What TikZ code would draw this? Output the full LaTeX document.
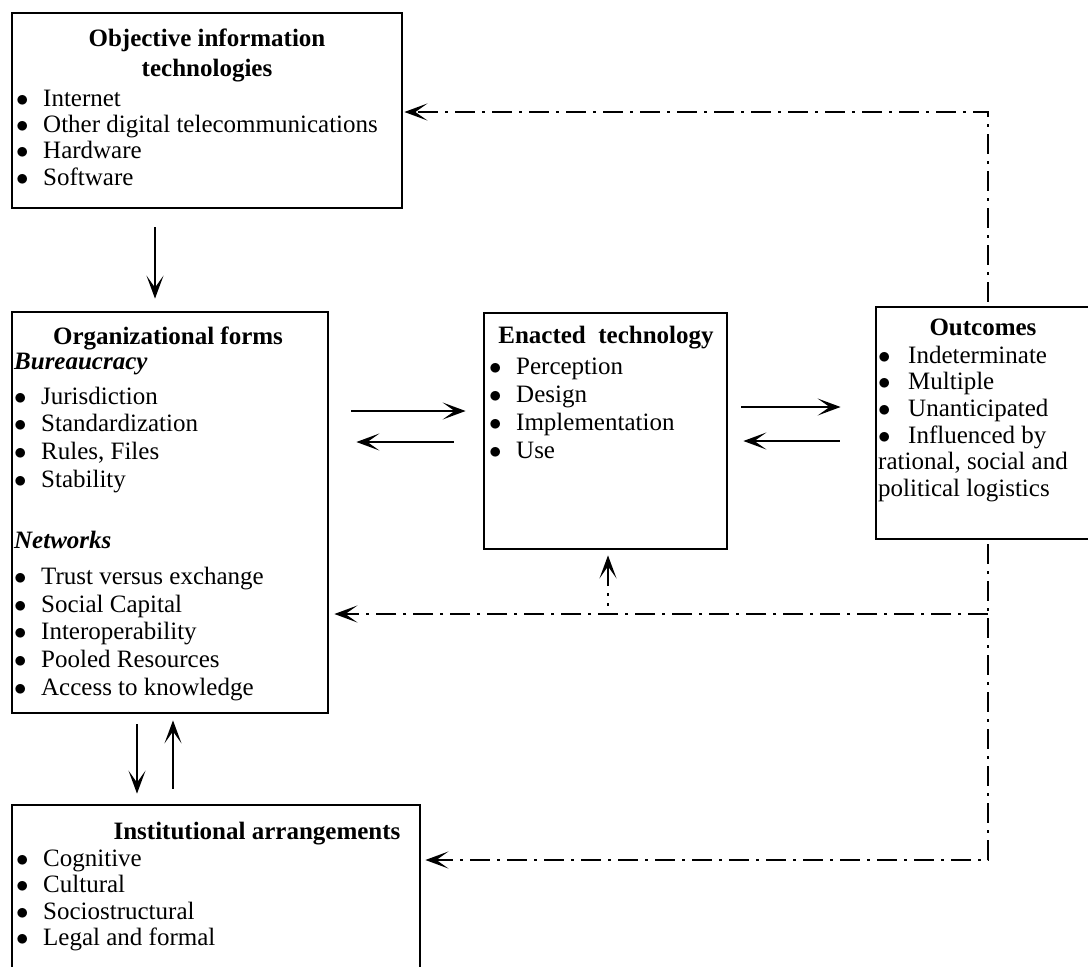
\documentclass[tikz,border=0pt]{standalone}
\usepackage{fontspec}
\setmainfont{Liberation Serif}
\usetikzlibrary{arrows.meta,calc}
\newcommand\fl{\rule{0pt}{20pt}}
\newcommand\bul[1][27pt]{\makebox[#1][l]{$\bullet$}}
\begin{document}
\begin{tikzpicture}[x=1pt,y=-1pt,
  box/.style={draw, line width=2.8pt, inner sep=0pt},
  txt/.style={anchor=north west, inner sep=0pt, align=left, font=\fontsize{25}{26.3}\selectfont},
  ttl/.style={anchor=north, inner sep=0pt, align=center, font=\fontsize{25}{30}\selectfont\bfseries},
  tip/.style={-{Stealth[length=23pt,width=17pt,inset=12pt]}},
  arr/.style={line width=1.6pt, tip},
  fb/.style={line width=2pt, dash pattern=on 20pt off 7pt on 3pt off 7pt, tip},
  dots/.style={line width=2pt, dash pattern=on 0pt off 8pt on 3pt off 7pt on 3pt off 7pt on 40pt, tip}
]
\path[use as bounding box] (0,0) rectangle (1088,967);
\clip (0,0) rectangle (1088,967);

% boxes
\node[box, minimum width=390, minimum height=195] (obj)   at (207,110.5) {};
\node[box, minimum width=316, minimum height=401] (org)   at (170,512.5) {};
\node[box, minimum width=243, minimum height=236] (enact) at (605.5,431) {};
\node[box, minimum width=216, minimum height=232] (out)   at (984,423) {};
\node[box, minimum width=408, minimum height=195] (inst)  at (216,902.5) {};

% objective information technologies
\node[ttl] (objT) at (207,26) {\fl Objective information\\technologies};
\node[txt] (objL) at (16,86) {\fl\bul Internet\\\bul Other digital telecommunications\\\bul Hardware\\\bul Software};

% organizational forms
\node[ttl] (orgT) at (168,324) {\fl Organizational forms};
\node[txt, font=\fontsize{25}{27.7}\selectfont] (orgL) at (14,349) {\fl\textbf{\textit{Bureaucracy}}\\[7.3pt]
\bul Jurisdiction\\\bul Standardization\\\bul Rules, Files\\\bul Stability\\[33.3pt]
\textbf{\textit{Networks}}\\[8.3pt]
\bul Trust versus exchange\\\bul Social Capital\\\bul Interoperability\\\bul Pooled Resources\\\bul Access to knowledge};

% enacted technology
\node[ttl] (enT) at (606,323) {\fl Enacted\ \ technology};
\node[txt, font=\fontsize{25}{28}\selectfont] (enL) at (489,354) {\fl\bul Perception\\\bul Design\\\bul Implementation\\\bul Use};

% outcomes
\node[ttl] (outT) at (983,315) {\fl Outcomes};
\node[txt, font=\fontsize{25}{26.6}\selectfont] (outL) at (878,343) {\fl\bul[30pt]Indeterminate\\\bul[30pt]Multiple\\\bul[30pt]Unanticipated\\\bul[30pt]Influenced by\\rational, social and\\political logistics};

% institutional arrangements
\node[ttl] (instT) at (257,819) {\fl Institutional arrangements};
\node[txt, font=\fontsize{25}{26.5}\selectfont] (instL) at (16,846) {\fl\bul Cognitive\\\bul Cultural\\\bul Sociostructural\\\bul Legal and formal};

% solid connectors
\draw[arr, shorten <=18pt, shorten >=12pt] (obj.south -| 155,0) -- (org.north -| 155,0);
\draw[arr, shorten <=22pt, shorten >=17pt] (org.east |- 0,411) -- (enact.west |- 0,411);
\draw[arr, shorten <=29pt, shorten >=27pt] (enact.west |- 0,442) -- (org.east |- 0,442);
\draw[arr, shorten <=13pt, shorten >=34pt] (enact.east |- 0,407) -- (out.west |- 0,407);
\draw[arr, shorten <=35pt, shorten >=15pt] (out.west |- 0,441) -- (enact.east |- 0,441);
\draw[arr, shorten <=10pt, shorten >=10pt] (org.south -| 137,0) -- (inst.north -| 137,0);
\draw[arr, shorten <=15pt, shorten >=6pt] (inst.north -| 173,0) -- (org.south -| 173,0);

% feedback loops
\coordinate (tr) at (988,112);
\coordinate (mr) at (988,614);
\coordinate (br) at (988,860);
\coordinate (md) at (608,614);
\draw[fb, shorten <=4pt, shorten >=1pt] (out.north -| tr) -- (tr) -- (obj.east |- tr);
\draw[fb, shorten >=5pt] (mr) -- (org.east |- mr);
\draw[fb, shorten <=4pt, shorten >=4pt] (out.south -| br) -- (br) -- (inst.east |- br);
\draw[dots, shorten >=5pt] (md) -- (enact.south -| md);
\end{tikzpicture}
\end{document}
